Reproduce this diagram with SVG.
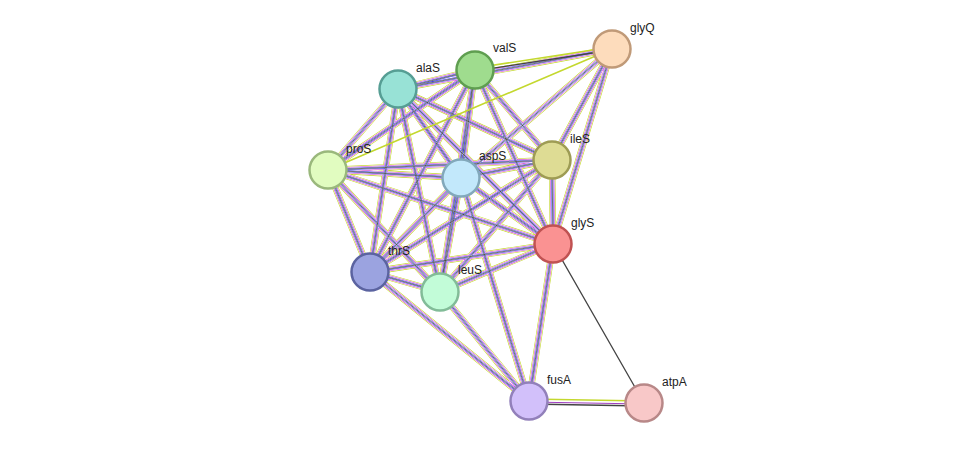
<svg xmlns="http://www.w3.org/2000/svg" xmlns:xlink="http://www.w3.org/1999/xlink" width="976" height="449" viewBox="0 0 976 449">
<style>
.n{stroke-width:2.5}
.t{font-family:"Liberation Sans",Arial,sans-serif;font-size:12px;fill:#222}
.a{fill:none;stroke:#c4d82e;stroke-width:6.4}
.g{fill:none;stroke:#fff;stroke-width:5.2}
.b{fill:none;stroke:#d040d0;stroke-width:4.2}
.h{fill:none;stroke:#fff;stroke-width:3.1}
.c{fill:none;stroke:#3a3ae8;stroke-width:2.2}
.k{fill:none;stroke:#fff;stroke-width:1.2}
.d{fill:none;stroke:#333;stroke-width:0.7}
.w1{fill:none;stroke:#c4d82e;stroke-width:1.6}
.w2{fill:none;stroke:#444;stroke-width:1.3}
</style>
<defs>
<g id="E">
<path d="M475 70L398 89M475 70L328 170M475 70L461 178M475 70L552 160M475 70L553 244M475 70L370 272M475 70L440 292
M398 89L328 170M398 89L461 178M398 89L552 160M398 89L553 244M398 89L370 272M398 89L440 292
M328 170L461 178M328 170L552 160M328 170L553 244M328 170L370 272M328 170L440 292
M461 178L552 160M461 178L553 244M461 178L370 272M461 178L440 292
M552 160L553 244M552 160L370 272M552 160L440 292
M553 244L370 272M553 244L440 292M370 272L440 292
M612 49L552 160M612 49L553 244M612 49L461 178M612 49L398 89
M529 401L553 244M529 401L370 272M529 401L440 292M529 401L461 178"/>
</g>
</defs>
<g id="connectors">
<use xlink:href="#E" class="a"/>
<use xlink:href="#E" class="g"/>
<use xlink:href="#E" class="b"/>
<use xlink:href="#E" class="h"/>
<use xlink:href="#E" class="c"/>
<use xlink:href="#E" class="k"/>
<use xlink:href="#E" class="d"/>
<path class="w1" d="M612 47L475 68M612 49L328 170M529 399L644 401"/>
<path class="w2" d="M612 50L475 71M553 244L644 403M529 404L644 406"/>
<path d="M529 402L644 404" fill="none" stroke="#a040c0" stroke-width="1.2"/>
</g>
<g id="valS"><circle class="n" cx="475" cy="70" r="18.5" fill="#9fdc8e" stroke="#5f9e50"/><text class="t" x="493" y="52">valS</text></g>
<g id="glyQ"><circle class="n" cx="612" cy="49" r="18.5" fill="#fddcbc" stroke="#c09a78"/><text class="t" x="630" y="32">glyQ</text></g>
<g id="alaS"><circle class="n" cx="398" cy="89" r="18.5" fill="#98e2d6" stroke="#569e94"/><text class="t" x="416" y="72">alaS</text></g>
<g id="proS"><circle class="n" cx="328" cy="170" r="18.5" fill="#e1fcc0" stroke="#9ab87c"/><text class="t" x="346" y="153">proS</text></g>
<g id="aspS"><circle class="n" cx="461" cy="178" r="18.5" fill="#c2e8fb" stroke="#82a8bb"/><text class="t" x="479" y="160">aspS</text></g>
<g id="ileS"><circle class="n" cx="552" cy="160" r="18.5" fill="#dedc94" stroke="#9e9c54"/><text class="t" x="570" y="143">ileS</text></g>
<g id="glyS"><circle class="n" cx="553" cy="244" r="18.5" fill="#fa9292" stroke="#c05252"/><text class="t" x="571" y="227">glyS</text></g>
<g id="thrS"><circle class="n" cx="370" cy="272" r="18.5" fill="#9ba3e0" stroke="#5b63a0"/><text class="t" x="388" y="255">thrS</text></g>
<g id="leuS"><circle class="n" cx="440" cy="292" r="18.5" fill="#c2fcd8" stroke="#82bc98"/><text class="t" x="458" y="274">leuS</text></g>
<g id="fusA"><circle class="n" cx="529" cy="401" r="18.5" fill="#d2c0fa" stroke="#9280ba"/><text class="t" x="547" y="384">fusA</text></g>
<g id="atpA"><circle class="n" cx="644" cy="403" r="18.5" fill="#f8c8c8" stroke="#b88888"/><text class="t" x="662" y="386">atpA</text></g>
</svg>
